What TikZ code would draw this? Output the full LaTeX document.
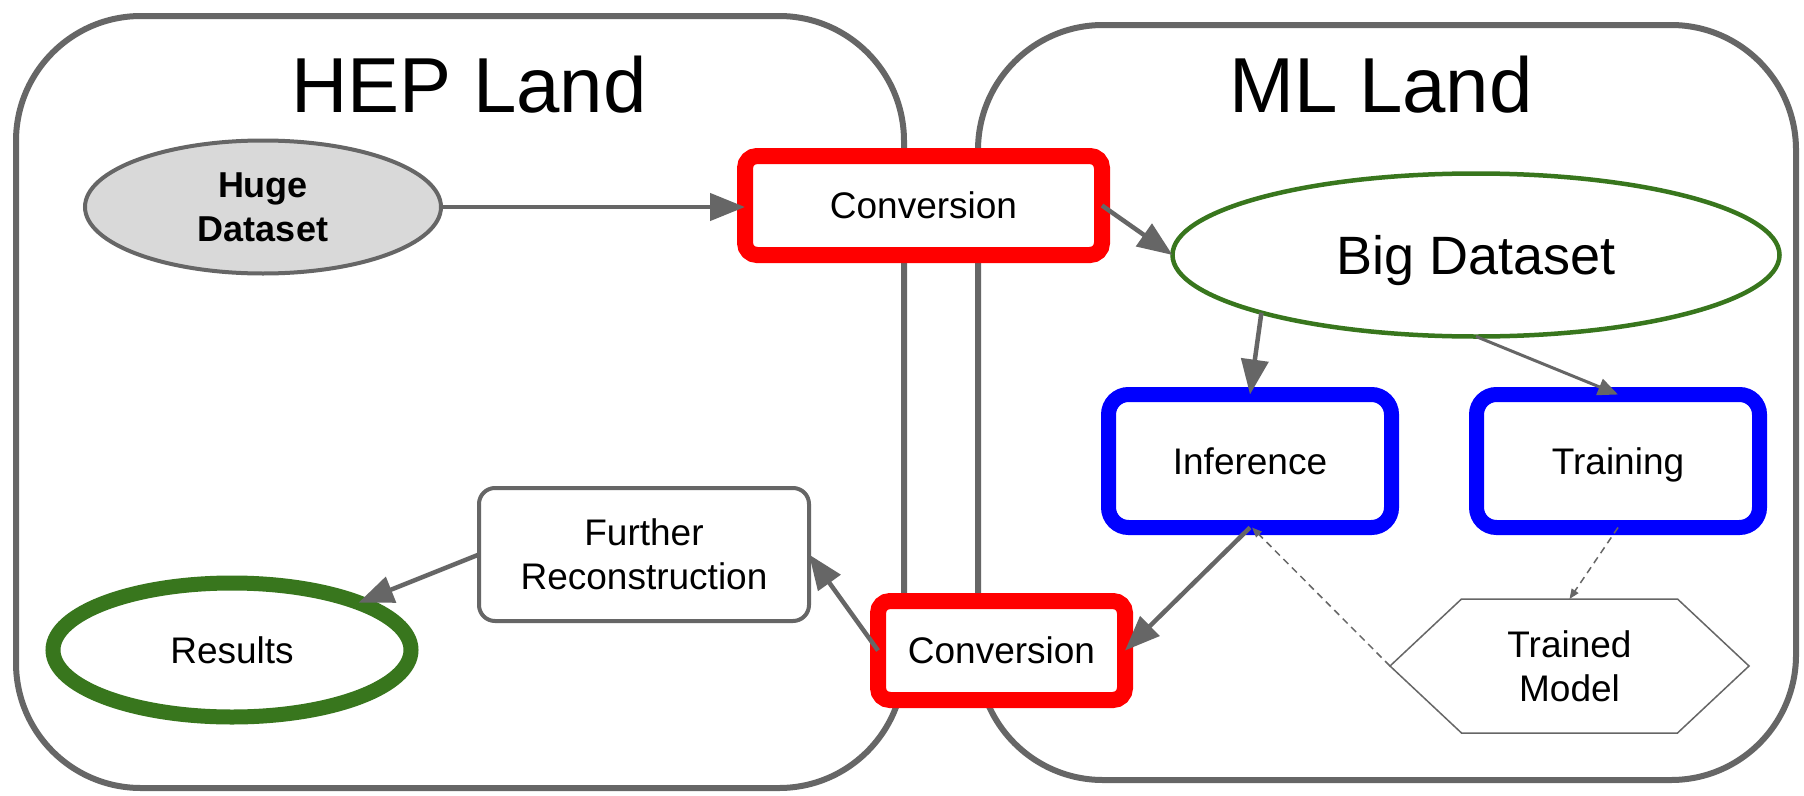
\documentclass[tikz,border=0pt]{standalone}
\usepackage{fontspec}
\setmainfont{Liberation Sans}
\usetikzlibrary{arrows.meta,shapes.geometric}
\definecolor{edgegray}{HTML}{666666}
\definecolor{hgreen}{HTML}{38761D}
\definecolor{hfill}{HTML}{D9D9D9}
\begin{document}
\begin{tikzpicture}[x=1pt,y=-1pt,
  every node/.style={outer sep=0pt, inner sep=0pt, align=center},
  container/.style={draw=edgegray, line width=6pt, rounded corners=125pt, fill=white},
  titletext/.style={font=\fontsize{78}{90}\selectfont, anchor=base},
  lbl/.style={font=\fontsize{37}{44}\selectfont},
  oneline/.style={text height=26.5pt, text depth=0pt},
  convbox/.style={lbl, oneline, draw=red, fill=white, line width=16pt, rounded corners=12pt, minimum height=99pt},
  bluebox/.style={lbl, oneline, draw=blue, fill=white, line width=15pt, rounded corners=20pt, minimum width=283pt, minimum height=133pt},
  arr/.style={draw=edgegray, line width=4.5pt, -{Triangle[length=35pt,width=27pt]}},
  arrthin/.style={draw=edgegray, line width=3pt, -{Triangle[length=20pt,width=17pt]}},
  dasharr/.style={draw=edgegray, line width=1.5pt, dash pattern=on 7pt off 5pt, -{Triangle[length=10pt,width=8pt]}},
  hexline/.style={draw=edgegray, line width=1.5pt}
]
\useasboundingbox (0,0) rectangle (1804,795);
% containers
\node[container, minimum width=888pt, minimum height=772pt] (hep) at (460,402) {};
\node[container, minimum width=818pt, minimum height=755pt] (ml) at (1387,402.5) {};
\node[titletext] (heptitle) at (469,112) {HEP Land};
\node[titletext] (mltitle) at (1381,112) {ML Land};
% nodes
\node[ellipse, draw=edgegray, fill=hfill, line width=4pt, minimum width=356pt, minimum height=133pt,
      font=\bfseries\fontsize{36}{44}\selectfont] (huge) at (263,207) {Huge\\Dataset};
\node[convbox, minimum width=357pt] (conv1) at (923.5,205.5) {Conversion};
\node[ellipse, text height=38.7pt, text depth=0pt, draw=hgreen, fill=white, line width=4.5pt, minimum width=607pt, minimum height=163pt,
      font=\fontsize{54}{64}\selectfont] (big) at (1476,255) {Big Dataset};
\node[bluebox] (inf) at (1250,461) {Inference};
\node[bluebox] (train) at (1618,461) {Training};
\node[convbox, minimum width=247pt] (conv2) at (1001.5,650.5) {Conversion};
\node[lbl, draw=edgegray, fill=white, line width=4pt, rounded corners=16pt, minimum width=330pt, minimum height=133pt]
      (further) at (644,554.5) {Further\\Reconstruction};
\node[lbl, oneline, ellipse, draw=hgreen, fill=white, line width=15pt, minimum width=358pt, minimum height=134pt]
      (results) at (232,650) {Results};
\node[lbl, minimum width=359pt, minimum height=134pt] (model) at (1569.5,666) {Trained\\Model};
\draw[hexline] ([xshift=-108pt]model.north) -- ([xshift=108pt]model.north) -- (model.east)
  -- ([xshift=108pt]model.south) -- ([xshift=-108pt]model.south) -- (model.west) -- cycle;
% connectors
\draw[arr] (huge.east) -- (huge.east -| conv1.west);
\draw[arr] (conv1.east) -- (big.west);
\draw[arr] (big.south west) -- (inf.north);
\draw[arrthin] (big.south) -- (train.north);
\draw[arr] (inf.south) -- (conv2.east);
\draw[arr] (conv2.west) -- (further.east);
\draw[arr] (further.west) -- (results.north east);
\draw[dasharr] (model.west) -- ([xshift=2pt]inf.south);
\draw[dasharr] (train.south) -- (model.north);
\end{tikzpicture}
\end{document}
